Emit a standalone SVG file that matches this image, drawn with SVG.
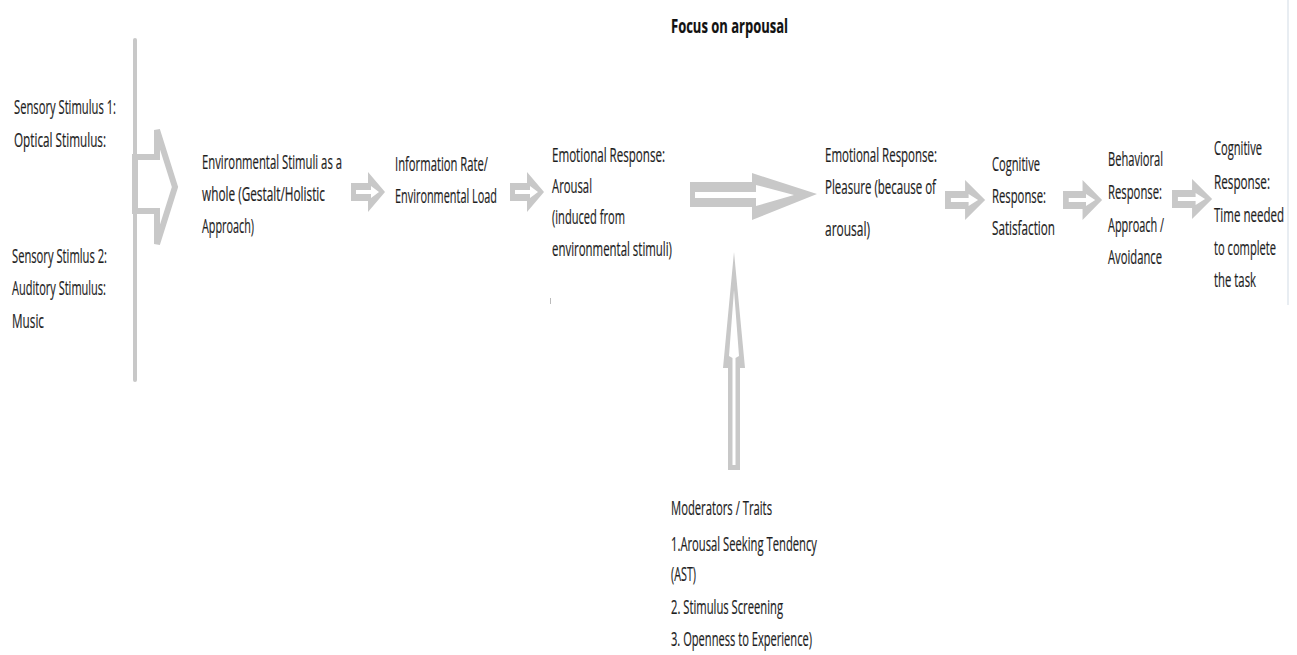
<svg xmlns="http://www.w3.org/2000/svg" width="1297" height="655" viewBox="0 0 1297 655">
<defs>
<style>
text{font-family:"Open Sans","Liberation Sans",sans-serif;font-size:20px;fill:#1e1e1e;stroke:#1e1e1e;stroke-width:0.2}
.t{font-weight:bold;fill:#111;font-size:20px}
.g{fill:#c8c8c8}
.w{fill:#ffffff}
.ol{fill:#ffffff;stroke:#c8c8c8;stroke-width:6;stroke-linejoin:miter}
</style>
<g id="smallArrow">
<polygon class="g" points="0,-9 17,-9 17,-20 34,0 17,20 17,9 0,9"/>
<polygon class="w" points="5,-2 20,-2 20,-6 28,0 20,6 20,2 5,2"/>
</g>
</defs>
<rect width="1297" height="655" fill="#ffffff"/>
<line x1="1288" y1="0" x2="1288" y2="305" stroke="#e8edf2" stroke-width="2"/>

<g id="title"><text class="t" x="671" y="33" textLength="117" lengthAdjust="spacingAndGlyphs">Focus on arpousal</text></g>

<g id="connectors">
<line x1="135" y1="40" x2="135" y2="380" stroke="#c8c8c8" stroke-width="4" stroke-linecap="round"/>
<polygon class="ol" points="135,157 157,157 157,130 175,187 157,244 157,211 135,211"/>
<use href="#smallArrow" transform="translate(351,192)"/>
<use href="#smallArrow" transform="translate(510,192)"/>
<g id="bigArrow">
<polygon class="g" points="690,182 752,182 752,173 817,194 752,220 752,207 690,207"/>
<polygon class="w" points="695,192 756,192 756,185 794,195 756,206 756,198 695,198"/>
</g>
<g id="upArrow">
<polygon class="g" points="728,470 740,470 740,368 745,368 734,252 723,368 728,368"/>
<polygon class="w" points="732.5,465 735.5,465 735.5,358 739,356 734,290 729,356 732.5,358"/>
</g>
<use href="#smallArrow" transform="translate(945,200) scale(1.18,1)"/>
<use href="#smallArrow" transform="translate(1063,200) scale(1.15,1)"/>
<use href="#smallArrow" transform="translate(1172,199) scale(1.18,1)"/>
</g>

<g id="sensory1">
<text x="14" y="114" textLength="102" lengthAdjust="spacingAndGlyphs">Sensory Stimulus 1:</text>
<text x="14" y="147" textLength="92" lengthAdjust="spacingAndGlyphs">Optical Stimulus:</text>
</g>
<g id="sensory2">
<text x="12" y="263" textLength="95" lengthAdjust="spacingAndGlyphs">Sensory Stimlus 2:</text>
<text x="12" y="295" textLength="94" lengthAdjust="spacingAndGlyphs">Auditory Stimulus:</text>
<text x="12" y="328" textLength="32" lengthAdjust="spacingAndGlyphs">Music</text>
</g>
<g id="env">
<text x="202" y="169" textLength="140" lengthAdjust="spacingAndGlyphs">Environmental Stimuli as a</text>
<text x="202" y="201" textLength="123" lengthAdjust="spacingAndGlyphs">whole (Gestalt/Holistic</text>
<text x="202" y="233" textLength="52" lengthAdjust="spacingAndGlyphs">Approach)</text>
</g>
<g id="info">
<text x="395" y="171" textLength="93" lengthAdjust="spacingAndGlyphs">Information Rate/</text>
<text x="395" y="203" textLength="102" lengthAdjust="spacingAndGlyphs">Environmental Load</text>
</g>
<g id="arousal">
<text x="552" y="162" textLength="113" lengthAdjust="spacingAndGlyphs">Emotional Response:</text>
<text x="552" y="193" textLength="40" lengthAdjust="spacingAndGlyphs">Arousal</text>
<text x="552" y="224" textLength="73" lengthAdjust="spacingAndGlyphs">(induced from</text>
<text x="552" y="256" textLength="120" lengthAdjust="spacingAndGlyphs">environmental stimuli)</text>
<rect x="550" y="298" width="1" height="6" fill="#bbbbbb"/>
</g>
<g id="pleasure">
<text x="825" y="162" textLength="112" lengthAdjust="spacingAndGlyphs">Emotional Response:</text>
<text x="825" y="194" textLength="111" lengthAdjust="spacingAndGlyphs">Pleasure (because of</text>
<text x="825" y="236" textLength="45" lengthAdjust="spacingAndGlyphs">arousal)</text>
</g>
<g id="satisfaction">
<text x="992" y="171" textLength="48" lengthAdjust="spacingAndGlyphs">Cognitive</text>
<text x="992" y="203" textLength="54" lengthAdjust="spacingAndGlyphs">Response:</text>
<text x="992" y="235" textLength="63" lengthAdjust="spacingAndGlyphs">Satisfaction</text>
</g>
<g id="behavioral">
<text x="1108" y="166" textLength="55" lengthAdjust="spacingAndGlyphs">Behavioral</text>
<text x="1108" y="199" textLength="54" lengthAdjust="spacingAndGlyphs">Response:</text>
<text x="1108" y="232" textLength="56" lengthAdjust="spacingAndGlyphs">Approach /</text>
<text x="1108" y="264" textLength="54" lengthAdjust="spacingAndGlyphs">Avoidance</text>
</g>
<g id="time">
<text x="1214" y="155" textLength="48" lengthAdjust="spacingAndGlyphs">Cognitive</text>
<text x="1214" y="189" textLength="56" lengthAdjust="spacingAndGlyphs">Response:</text>
<text x="1214" y="222" textLength="70" lengthAdjust="spacingAndGlyphs">Time needed</text>
<text x="1214" y="255" textLength="62" lengthAdjust="spacingAndGlyphs">to complete</text>
<text x="1214" y="287" textLength="42" lengthAdjust="spacingAndGlyphs">the task</text>
</g>
<g id="moderators">
<text x="671" y="515" textLength="101" lengthAdjust="spacingAndGlyphs">Moderators / Traits</text>
<text x="671" y="551" textLength="146" lengthAdjust="spacingAndGlyphs">1.Arousal Seeking Tendency</text>
<text x="671" y="581" textLength="25" lengthAdjust="spacingAndGlyphs">(AST)</text>
<text x="671" y="614" textLength="112" lengthAdjust="spacingAndGlyphs">2. Stimulus Screening</text>
<text x="671" y="646" textLength="141" lengthAdjust="spacingAndGlyphs">3. Openness to Experience)</text>
</g>
</svg>
